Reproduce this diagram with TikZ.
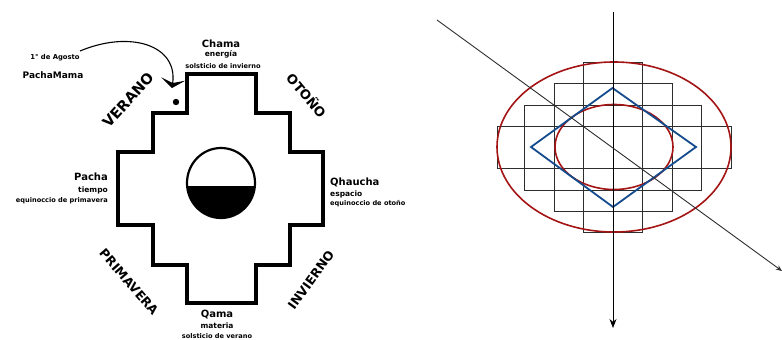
\documentclass[tikz,border=0pt]{standalone}
\usepackage{fontspec}
\setmainfont{DejaVu Sans}
\usetikzlibrary{arrows.meta}
\definecolor{chred}{RGB}{165,20,20}
\definecolor{chblue}{RGB}{20,75,140}
\definecolor{gridgray}{RGB}{45,45,45}
\tikzset{
  season/.style={font=\bfseries\fontsize{#1}{#1}\selectfont, inner sep=0pt},
  bigname/.style={font=\bfseries\fontsize{10}{10}\selectfont, inner sep=0pt},
  midname/.style={font=\bfseries\fontsize{7.5}{7.5}\selectfont, inner sep=0pt},
  tinyname/.style={font=\bfseries\fontsize{6.6}{6.6}\selectfont, inner sep=0pt},
  gridrect/.style={draw=gridgray, line width=0.8pt},
  redell/.style={draw=chred, line width=1.6pt},
}
\begin{document}
\begin{tikzpicture}[x=1pt,y=-1pt]
\useasboundingbox (0,0) rectangle (782,340);
% ---------- Left: chakana ----------
\draw[line width=3.2pt, line join=miter]
  (187,74) -- (256,74) -- (256,113) -- (290,113) -- (290,152) -- (323,152)
  -- (323,225) -- (290,225) -- (290,265) -- (256,265) -- (256,303)
  -- (187,303) -- (187,265) -- (153,265) -- (153,225) -- (118,225)
  -- (118,152) -- (153,152) -- (153,113) -- (187,113) -- cycle;
% egg
\begin{scope}
  \clip (180,187) rectangle (262,225);
  \fill (221,183) ellipse [x radius=34, y radius=35];
\end{scope}
\draw[line width=2.2pt] (221,183) ellipse [x radius=34, y radius=35];
\draw[line width=2pt] (187,187) -- (255,187);
% dot
\fill (176,102) circle (3.2);
% curved arrow
\coordinate (arrStart) at (80,51);
\coordinate (arrEnd) at (172,88);
\draw[line width=1.1pt, -{Stealth[width=24pt,length=9pt,inset=4pt]}]
  (arrStart) .. controls (130,30) and (178,45) .. (arrEnd);
% texts
\node[inner sep=0pt, font=\bfseries\fontsize{6.8}{6.8}\selectfont] (agosto) at (55,58) {1° de Agosto};
\node[inner sep=0pt, font=\bfseries\fontsize{9}{9}\selectfont] (pmama) at (53,75) {PachaMama};
\node[bigname] (chama) at (221,44) {Chama};
\node[midname] (energia) at (221,54) {energía};
\node[tinyname] (solinv) at (223,66) {solsticio de invierno};
\node[bigname, anchor=east] (pacha) at (108,177) {Pacha};
\node[midname, anchor=east] (tiempo) at (108,190) {tiempo};
\node[tinyname, anchor=east] (eqprim) at (108,201) {equinoccio de primavera};
\node[bigname, anchor=west] (qhaucha) at (330,182) {Qhaucha};
\node[midname, anchor=west] (espacio) at (330,194) {espacio};
\node[tinyname, anchor=west] (eqoto) at (330,204) {equinoccio de otoño};
\node[bigname] (qama) at (217,315) {Qama};
\node[midname] (materia) at (217,326) {materia};
\node[tinyname] (solver) at (217,336) {solsticio de verano};
\node[season=14.5, rotate=48] (verano) at (128,100) {VERANO};
\node[season=13, rotate=-50] (otono) at (307,95) {OTOÑO};
\node[season=12.5, rotate=-49] (prima) at (129,282) {PRIMAVERA};
\node[season=12.5, rotate=54] (invierno) at (311,280) {INVIERNO};
% ---------- Right: grid chakana ----------
\draw[gridrect] (583,62) rectangle (642,232);
\draw[gridrect] (554,83) rectangle (672,211);
\draw[gridrect] (524,105) rectangle (701,190);
\draw[gridrect] (497,126) rectangle (731,168);
\draw[redell] (614,147) ellipse [x radius=117, y radius=85];
\draw[redell] (614,147) ellipse [x radius=59, y radius=42.5];
\coordinate (dT) at (612.5,88);
\coordinate (dR) at (696,147);
\coordinate (dB) at (613,207);
\coordinate (dL) at (531,147);
\draw[chblue, line width=1.8pt, line join=miter] (dT) -- (dR) -- (dB) -- (dL) -- cycle;
\coordinate (vTop) at (613,12);
\coordinate (vBot) at (613,328);
\draw[line width=0.9pt, -{Stealth[width=7pt,length=9pt]}] (vTop) -- (vBot);
\coordinate (dgA) at (437,20);
\coordinate (dgB) at (782,271);
\draw[gridgray, line width=0.9pt, -{Stealth[width=5pt,length=6pt]}] (dgA) -- (dgB);
\end{tikzpicture}
\end{document}
